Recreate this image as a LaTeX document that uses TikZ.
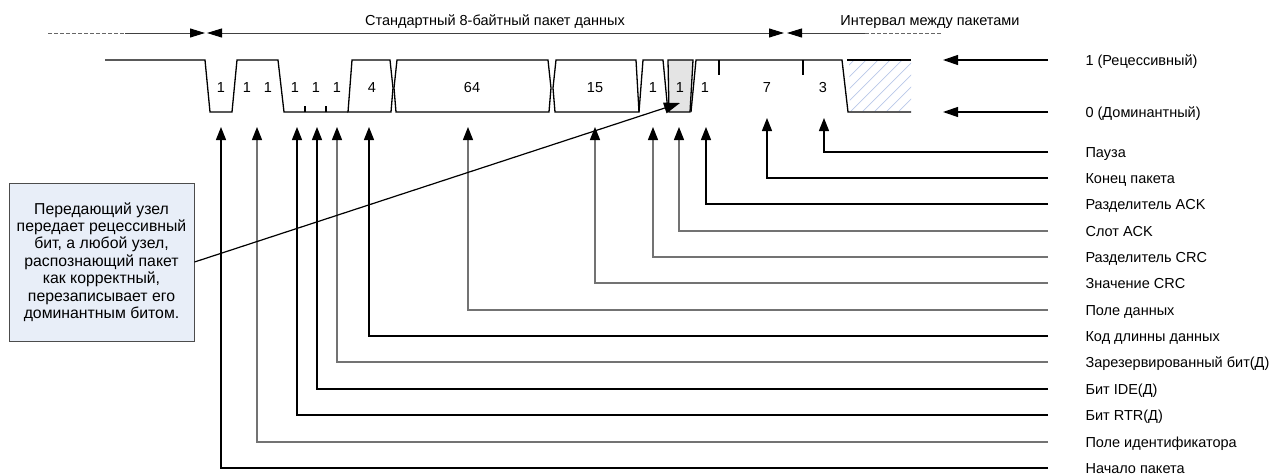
\documentclass[tikz,border=0pt]{standalone}
\usepackage{fontspec}
\setmainfont{Liberation Sans}
\usetikzlibrary{arrows.meta}
\definecolor{boxfill}{HTML}{E8EEF8}
\definecolor{hatchc}{HTML}{B8C8E8}
\definecolor{ackfill}{HTML}{E4E4E4}
\begin{document}
\begin{tikzpicture}[x=1pt,y=-1pt,
  font=\fontsize{14.5}{17.4}\selectfont,
  wave/.style={line width=1.3pt, line join=miter},
  dimline/.style={black!75, line width=1pt},
  dimdash/.style={black!60, line width=1pt, dash pattern=on 4pt off 2pt},
  dimtip/.style={-{Triangle[length=15pt,width=9pt,color=black]}},
  uptip/.style={-{Triangle[length=13pt,width=10pt,color=black]}},
  darkld/.style={black, line width=1.2pt},
  grayld/.style={black!55, line width=1.2pt},
  bitlbl/.style={anchor=base},
  leglbl/.style={anchor=base west}]
\useasboundingbox (0,0) rectangle (1272,474);

% ---- top dimension line ----
\coordinate (d0) at (48,33);
\coordinate (d1) at (125,33);
\coordinate (d2) at (205,33);
\coordinate (d3) at (207,33);
\coordinate (d4) at (784,33);
\coordinate (d5) at (787,33);
\coordinate (d6) at (865,33);
\coordinate (d7) at (942,33);
\draw[dimdash] (d0) -- (d1);
\draw[dimline, dimtip] (d1) -- (d2);
\draw[dimline, {Triangle[length=15pt,width=9pt,color=black]}-{Triangle[length=15pt,width=9pt,color=black]}] (d3) -- (d4);
\draw[dimline, dimtip] (d6) -- (d5);
\draw[dimdash] (d6) -- (d7);
\node[anchor=base] (stdlbl) at (495,25) {Стандартный 8-байтный пакет данных};
\node[anchor=base] (gaplbl) at (930,25) {Интервал между пакетами};

% ---- waveform ----
\fill[ackfill] (668,60) -- (693,60) -- (690,112) -- (669,112) -- cycle;
\begin{scope}
  \clip (849,61) -- (911,61) -- (911,111) -- (850,111) -- cycle;
  \foreach \k in {0,...,12} \draw[hatchc, line width=0.7pt] ({790+\k*12},112) -- ++(60,-60);
\end{scope}
\draw[wave] (105,60) -- (205,60) -- (210,112) -- (232,112) -- (237,60) -- (278,60) -- (284,112) -- (348,112);
\draw[wave] (305,112) -- (305,106);
\draw[wave] (326,112) -- (326,106);
\draw[wave] (348,112) -- (352,60) -- (390,60) -- (393,88) -- (391,112) -- cycle;
\draw[wave] (396,112) -- (394,88) -- (397,60) -- (548,60) -- (551,88) -- (549,112) -- cycle;
\draw[wave] (555,112) -- (553,88) -- (556,60) -- (636,60) -- (639,112) -- cycle;
\draw[wave] (639,112) -- (643,60) -- (663,60) -- (668,112);
\draw[wave] (668,60) -- (693,60) -- (690,112) -- (669,112) -- cycle;
\draw[wave] (691,112) -- (696,60) -- (842,60) -- (848,112) -- (911,112);
\draw[wave] (847,60) -- (911,60);
\draw[wave] (719,60) -- (719,75);
\draw[wave] (803,60) -- (803,75);

% ---- bit counts ----
\node[bitlbl] (n1) at (221,92) {1};
\node[bitlbl] (n2) at (247,92) {1};
\node[bitlbl] (n3) at (268,92) {1};
\node[bitlbl] (n4) at (295,92) {1};
\node[bitlbl] (n5) at (316,92) {1};
\node[bitlbl] (n6) at (337,92) {1};
\node[bitlbl] (n7) at (372,92) {4};
\node[bitlbl] (n8) at (472,92) {64};
\node[bitlbl] (n9) at (595,92) {15};
\node[bitlbl] (n10) at (653,92) {1};
\node[bitlbl] (n11) at (680,92) {1};
\node[bitlbl] (n12) at (705,92) {1};
\node[bitlbl] (n13) at (767,92) {7};
\node[bitlbl] (n14) at (823,92) {3};

% ---- level legend ----
\coordinate (r1) at (1048,60);
\coordinate (r2) at (943,60);
\coordinate (z1) at (1048,112);
\coordinate (z2) at (943,112);
\draw[darkld, -{Triangle[length=15pt,width=10pt]}] (r1) -- (r2);
\draw[darkld, -{Triangle[length=15pt,width=10pt]}] (z1) -- (z2);
\node[leglbl] (reclbl) at (1082,65) {1 (Рецессивный)};
\node[leglbl] (domlbl) at (1082,117) {0 (Доминантный)};

% ---- field labels and leaders ----
\foreach \i/\lab/\y/\x/\t/\c in {
  1/Пауза/152/824/118/darkld,
  2/Конец пакета/178/767/118/darkld,
  3/Разделитель ACK/204/706/127/darkld,
  4/Слот ACK/231/679/127/grayld,
  5/Разделитель CRC/257/653/127/grayld,
  6/Значение CRC/283/595/127/grayld,
  7/Поле данных/310/468/127/grayld,
  8/Код длинны данных/336/369/127/darkld,
  9/Зарезервированный бит(Д)/362/337/127/grayld,
  10/Бит IDE(Д)/389/317/127/darkld,
  11/Бит RTR(Д)/415/297/127/darkld,
  12/Поле идентификатора/442/257/127/grayld,
  13/Начало пакета/468/221/127/darkld}{
  \node[leglbl] (lab\i) at (1082,{\y+5}) {\lab};
  \coordinate (le\i) at (1048,\y);
  \coordinate (tip\i) at (\x,\t);
  \draw[\c, uptip] (le\i) -| (tip\i);
}

% ---- note ----
\node[draw=black!70, fill=boxfill, line width=1pt, minimum width=185pt, minimum height=158pt,
  align=center, inner sep=2pt, font=\fontsize{15.8}{17.4}\selectfont] (note) at (101.5,262)
  {Передающий узел\\передает рецессивный\\бит, а любой узел,\\распознающий пакет\\как корректный,\\перезаписывает его\\доминантным битом.};
\coordinate (acktip) at (680,103);
\draw[darkld, -{Triangle[length=16pt,width=11pt]}] (note.east) -- (acktip);
\end{tikzpicture}
\end{document}
